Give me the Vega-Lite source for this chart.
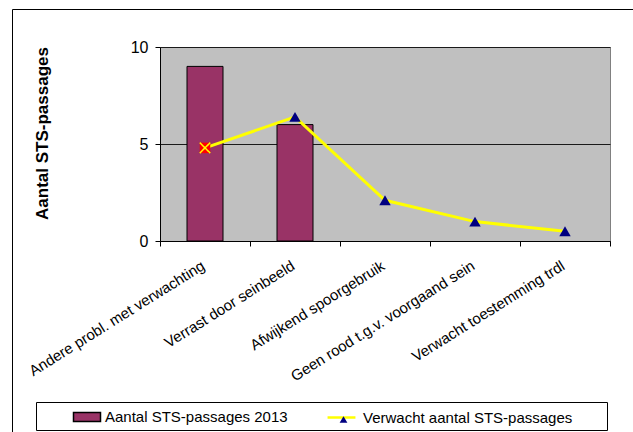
{
  "$schema": "https://vega.github.io/schema/vega-lite/v6.json",
  "width": 450,
  "height": 194,
  "autosize": {"type": "none"},
  "padding": {"left": 160, "top": 47, "right": 23, "bottom": 191},
  "background": "white",
  "config": {
    "font": "Liberation Sans",
    "view": {"fill": "#C0C0C0", "stroke": "#808080", "strokeWidth": 1}
  },
  "data": {
    "values": [
      {"cat": "Andere probl. met verwachting", "aantal": 9, "verwacht": 4.8},
      {"cat": "Verrast door seinbeeld", "aantal": 6, "verwacht": 6.4},
      {"cat": "Afwijkend spoorgebruik", "aantal": null, "verwacht": 2.1},
      {"cat": "Geen rood t.g.v. voorgaand sein", "aantal": null, "verwacht": 1.0},
      {"cat": "Verwacht toestemming trdl", "aantal": null, "verwacht": 0.5}
    ]
  },
  "encoding": {
    "x": {
      "field": "cat",
      "type": "nominal",
      "sort": null,
      "scale": {"paddingInner": 0, "paddingOuter": 0},
      "axis": {
        "title": null,
        "tickBand": "extent",
        "ticks": true,
        "tickSize": 5,
        "tickColor": "#000000",
        "domainColor": "#000000",
        "labelAngle": -32,
        "labelAlign": "right",
        "labelBaseline": "top",
        "labelPadding": 12,
        "labelOffset": -6,
        "labelFontSize": 15,
        "labelColor": "#000000",
        "labelLimit": 400,
        "labelOverlap": false,
        "grid": false
      }
    }
  },
  "layer": [
    {
      "mark": {"type": "bar", "width": {"band": 0.4}, "stroke": "#000000", "strokeWidth": 1},
      "encoding": {
        "y": {
          "field": "aantal",
          "type": "quantitative",
          "scale": {"domain": [0, 10], "nice": false},
          "axis": {
            "values": [0, 5, 10],
            "grid": true,
            "gridColor": "#1a1a1a",
            "gridWidth": 1,
            "domainColor": "#000000",
            "tickColor": "#000000",
            "tickSize": 5,
            "labelFontSize": 16,
            "labelColor": "#000000",
            "labelPadding": 7,
            "title": "Aantal STS-passages",
            "titleFontSize": 17,
            "titleFontWeight": "bold",
            "titleColor": "#000000",
            "titleAngle": -90,
            "titleAlign": "center",
            "titleBaseline": "alphabetic",
            "titleX": -113,
            "titleY": 86
          }
        },
        "fill": {
          "datum": "Aantal STS-passages 2013",
          "scale": {"domain": ["Aantal STS-passages 2013"], "range": ["#993366"]},
          "legend": {
            "title": null,
            "orient": "none",
            "direction": "horizontal",
            "legendX": -124,
            "legendY": 355,
            "padding": 5,
            "strokeColor": "#000000",
            "fillColor": "#FFFFFF",
            "labelFontSize": 15,
            "labelColor": "#000000",
            "symbolOffset": 36,
            "labelOffset": 8,
            "labelLimit": 400,
            "symbolSize": 324,
            "symbolType": "M-1.5,-0.5H1.5V0.5H-1.5Z M56.8,0",
            "symbolStrokeColor": "#000000",
            "symbolStrokeWidth": 1.5,
            "symbolOpacity": 1
          }
        }
      }
    },
    {
      "mark": {"type": "line", "strokeWidth": 3},
      "encoding": {
        "y": {"field": "verwacht", "type": "quantitative"},
        "stroke": {
          "datum": "Verwacht aantal STS-passages",
          "scale": {"domain": ["Verwacht aantal STS-passages"], "range": ["#FFFF00"]},
          "legend": {
            "title": null,
            "orient": "none",
            "direction": "horizontal",
            "legendX": 171,
            "legendY": 360,
            "padding": 0,
            "labelFontSize": 15,
            "labelColor": "#000000",
            "labelOffset": 11,
            "labelLimit": 400,
            "symbolSize": 324,
            "symbolType": "M-1.55,0H1.55",
            "symbolStrokeWidth": 2.5,
            "symbolOpacity": 1
          }
        }
      }
    },
    {
      "transform": [{"filter": "datum.cat !== 'Andere probl. met verwachting'"}],
      "mark": {"type": "point", "filled": true, "color": "#000080", "size": 130, "opacity": 1},
      "encoding": {
        "y": {"field": "verwacht", "type": "quantitative"},
        "shape": {
          "datum": "marker",
          "scale": {"domain": ["marker"], "range": ["triangle-up"]},
          "legend": {
            "title": null,
            "orient": "none",
            "legendX": 176,
            "legendY": 365,
            "padding": 0,
            "labelExpr": "''",
            "labelFontSize": 15,
            "symbolSize": 60,
            "symbolFillColor": "#000080",
            "symbolStrokeWidth": 0,
            "symbolOpacity": 1
          }
        }
      }
    },
    {
      "transform": [{"filter": "datum.cat === 'Andere probl. met verwachting'"}],
      "mark": {"type": "point", "shape": "square", "filled": true, "color": "#FF0000", "size": 110, "opacity": 1},
      "encoding": {
        "y": {"field": "verwacht", "type": "quantitative"}
      }
    },
    {
      "transform": [{"filter": "datum.cat === 'Andere probl. met verwachting'"}],
      "mark": {"type": "point", "shape": "M-1,-1L1,1M-1,1L1,-1", "filled": false, "stroke": "#FFFF00", "strokeWidth": 1.5, "size": 110, "opacity": 1},
      "encoding": {
        "y": {"field": "verwacht", "type": "quantitative"},
        "strokeDash": {
          "datum": "frame",
          "scale": {"domain": ["frame"], "range": [[1, 0]]},
          "legend": {
            "title": null,
            "orient": "none",
            "legendX": -148,
            "legendY": -38,
            "padding": 330,
            "strokeColor": "#000000",
            "labelExpr": "''",
            "symbolSize": 1,
            "symbolStrokeColor": "transparent",
            "symbolFillColor": "transparent",
            "symbolOpacity": 0
          }
        }
      }
    }
  ]
}
